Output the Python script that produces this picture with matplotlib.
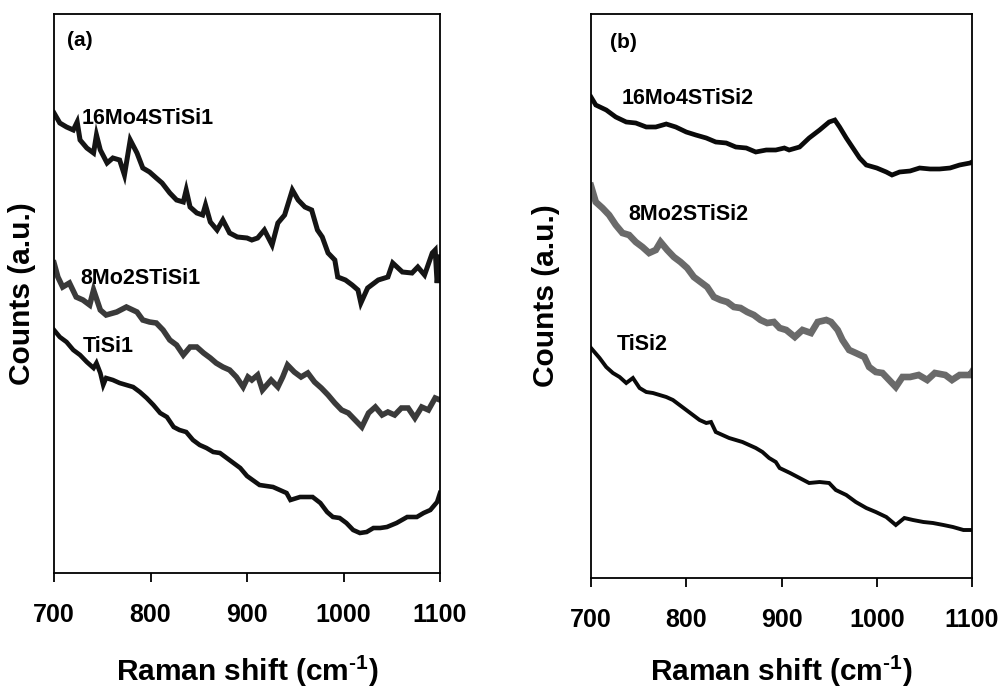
import matplotlib
matplotlib.use("Agg")
import matplotlib.pyplot as plt

plt.rcParams["font.family"] = ["Liberation Sans", "DejaVu Sans"]
plt.rcParams["font.weight"] = "bold"
plt.rcParams["mathtext.fontset"] = "custom"
plt.rcParams["mathtext.rm"] = "Liberation Sans:bold"
plt.rcParams["mathtext.bf"] = "Liberation Sans:bold"

# panel (a) - spectra (arbitrary counts)
A_TOP_X = [700, 706, 713, 720, 724, 727, 734, 741, 744, 748, 755, 761, 768, 773, 779, 786,
           792, 799, 806, 812, 820, 827, 834, 837, 841, 848, 854, 857, 862, 869, 875, 882,
           890, 900, 905, 911, 918, 926, 932, 939, 947, 953, 960, 967, 973, 978, 984, 991,
           994, 1002, 1009, 1015, 1018, 1025, 1036, 1046, 1051, 1061, 1071, 1077, 1084,
           1092, 1095, 1097, 1100]
A_TOP_Y = [460, 450, 446, 443, 451, 433, 425, 420, 438, 423, 410, 415, 413, 398, 433, 420,
           405, 401, 395, 390, 380, 373, 371, 383, 366, 360, 358, 368, 351, 343, 353, 340,
           336, 335, 333, 335, 343, 328, 350, 358, 383, 373, 366, 363, 343, 336, 320, 313,
           296, 293, 288, 283, 270, 285, 293, 296, 310, 301, 300, 306, 298,
           320, 323, 290, 316]

A_MID_X = [700, 704, 709, 716, 723, 730, 737, 741, 748, 754, 765, 775, 786, 792, 799, 806,
           813, 820, 827, 834, 841, 848, 855, 862, 868, 875, 882, 889, 896, 901, 905, 911,
           916, 925, 932, 937, 942, 949, 956, 963, 970, 977, 984, 991, 998, 1005, 1012,
           1019, 1026, 1033, 1040, 1046, 1053, 1060, 1067, 1074, 1081, 1088, 1095, 1100]
A_MID_Y = [310, 296, 286, 290, 276, 273, 268, 283, 263, 258, 261, 266, 261, 253, 251, 250,
           243, 233, 228, 218, 226, 226, 220, 215, 210, 206, 203, 196, 186, 196, 193, 198,
           183, 193, 186, 196, 208, 201, 196, 200, 191, 185, 178, 170, 163, 160, 153,
           146, 160, 166, 158, 161, 158, 165, 165, 155, 166, 163, 175, 173]

A_BOT_X = [700, 706, 713, 720, 727, 734, 741, 744, 748, 751, 754, 761, 768, 775, 782, 789,
           796, 803, 810, 817, 824, 830, 837, 844, 851, 858, 865, 872, 879, 886, 893, 900,
           913, 927, 941, 945, 955, 968, 976, 983, 989, 996, 1003, 1010, 1017, 1024, 1031,
           1038, 1045, 1055, 1066, 1076, 1083, 1090, 1097, 1100]
A_BOT_Y = [243, 236, 231, 223, 218, 211, 205, 210, 200, 188, 195, 193, 190, 188, 186, 181,
           175, 168, 160, 156, 146, 143, 141, 133, 128, 125, 121, 120, 115, 110, 105, 97,
           88, 86, 80, 73, 76, 76, 70, 61, 56, 55, 50, 43, 40, 41, 45,
           45, 46, 50, 56, 56, 60, 63, 71, 80]

# panel (b)
B_TOP_X = [700, 705, 716, 726, 737, 747, 758, 768, 779, 789, 800, 810, 821, 831, 842, 852,
           863, 873, 884, 894, 903, 908, 919, 929, 940, 950, 956, 961, 968, 975, 982, 989,
           1000, 1010, 1016, 1024, 1035, 1045, 1056, 1066, 1077, 1087, 1098, 1100]
B_TOP_Y = [481, 473, 468, 461, 456, 455, 451, 451, 454, 451, 446, 443, 440, 436, 435, 431,
           430, 426, 428, 428, 430, 428, 431, 440, 448, 456, 458, 451, 440, 430, 420, 413,
           410, 406, 403, 406, 407, 410, 409, 409, 410, 413, 415, 416]

B_MID_X = [700, 705, 712, 719, 726, 733, 740, 747, 754, 761, 768, 773, 780, 787, 794, 801,
           808, 815, 822, 829, 836, 843, 850, 857, 864, 871, 878, 885, 892, 898, 905, 914,
           922, 931, 938, 947, 952, 959, 964, 971, 978, 987, 992, 999, 1006, 1013, 1020,
           1027, 1035, 1044, 1053, 1061, 1072, 1079, 1087, 1098, 1100]
B_MID_Y = [392, 376, 370, 363, 353, 345, 343, 336, 331, 325, 328, 336, 328, 321, 316, 310,
           301, 296, 291, 281, 278, 276, 271, 270, 266, 263, 258, 255, 256, 250, 248, 241,
           248, 245, 256, 258, 256, 248, 238, 228, 225, 221, 211, 206, 205, 198, 191,
           201, 201, 203, 198, 205, 203, 198, 203, 203, 206]

B_BOT_X = [700, 709, 716, 723, 730, 737, 744, 751, 758, 765, 772, 779, 786, 793, 800, 807,
           814, 821, 826, 831, 838, 845, 852, 859, 866, 873, 880, 887, 894, 898, 909, 919,
           929, 940, 950, 957, 968, 978, 989, 999, 1010, 1020, 1029, 1038, 1049, 1059,
           1070, 1080, 1091, 1100]
B_BOT_Y = [230, 220, 211, 205, 201, 195, 200, 190, 186, 185, 183, 181, 178, 173, 168, 163,
           158, 155, 156, 146, 143, 140, 138, 136, 133, 130, 126, 120, 116, 110, 105, 100,
           95, 96, 95, 88, 83, 76, 70, 66, 61, 53, 60, 58, 56, 55,
           53, 51, 48, 48]

LABELS_A = ["16Mo4STiSi1", "8Mo2STiSi1", "TiSi1"]
LABELS_B = ["16Mo4STiSi2", "8Mo2STiSi2", "TiSi2"]
XTICKS = [700, 800, 900, 1000, 1100]
XLABEL = "Raman shift (cm$^{\\mathbf{\u20101}}$)"


def style_axes(ax, ymax):
    ax.set_xlim(700, 1100)
    ax.set_ylim(0, ymax)
    ax.set_xticks(XTICKS)
    ax.set_xticklabels([str(t) for t in XTICKS], fontsize=18, fontweight="bold")
    ax.set_yticks([])
    ax.tick_params(axis="x", direction="out", length=6.5, width=1.3, pad=15)
    for s in ax.spines.values():
        s.set_linewidth(1.3)
    ax.set_xlabel(XLABEL, fontsize=21.5, fontweight="bold")
    ax.xaxis.label.set_va("baseline")
    ax.set_ylabel("Counts (a.u.)", fontsize=21.5, fontweight="bold")
    ax.yaxis.label.set_va("center")


fig = plt.figure(figsize=(10.01, 6.91), dpi=100)
ax1 = fig.add_axes([54 / 1001, 1 - 573 / 691, 386 / 1001, 559 / 691])
ax2 = fig.add_axes([591 / 1001, 1 - 578 / 691, 381 / 1001, 564 / 691])

ax1.plot(A_TOP_X, A_TOP_Y, color="#151515", lw=3.6, solid_joinstyle="miter")
ax1.plot(A_MID_X, A_MID_Y, color="#3a3a3a", lw=4.0, solid_joinstyle="miter")
ax1.plot(A_BOT_X, A_BOT_Y, color="#101010", lw=3.3, solid_joinstyle="miter")
style_axes(ax1, 559)
ax1.xaxis.set_label_coords(0.5, -0.193)
ax1.yaxis.set_label_coords(-0.083, 0.5)
ax1.text(713, 532, "(a)", fontsize=15, fontweight="bold", va="center")
ax1.text(729, 455, LABELS_A[0], fontsize=15.5, fontweight="bold", va="center")
ax1.text(727, 295, LABELS_A[1], fontsize=15.5, fontweight="bold", va="center")
ax1.text(730, 226, LABELS_A[2], fontsize=15.5, fontweight="bold", va="center")

ax2.plot(B_TOP_X, B_TOP_Y, color="#0a0a0a", lw=3.4, solid_joinstyle="miter")
ax2.plot(B_MID_X, B_MID_Y, color="#6a6a6a", lw=4.8, solid_joinstyle="miter")
ax2.plot(B_BOT_X, B_BOT_Y, color="#0a0a0a", lw=2.8, solid_joinstyle="miter")
style_axes(ax2, 564)
ax2.xaxis.set_label_coords(0.5, -0.183)
ax2.yaxis.set_label_coords(-0.118, 0.5)
ax2.text(720, 535, "(b)", fontsize=15, fontweight="bold", va="center")
ax2.text(732, 479, LABELS_B[0], fontsize=15.5, fontweight="bold", va="center")
ax2.text(739, 363, LABELS_B[1], fontsize=15.5, fontweight="bold", va="center")
ax2.text(727, 233, LABELS_B[2], fontsize=15.5, fontweight="bold", va="center")

fig.savefig("out.png", dpi=100)
